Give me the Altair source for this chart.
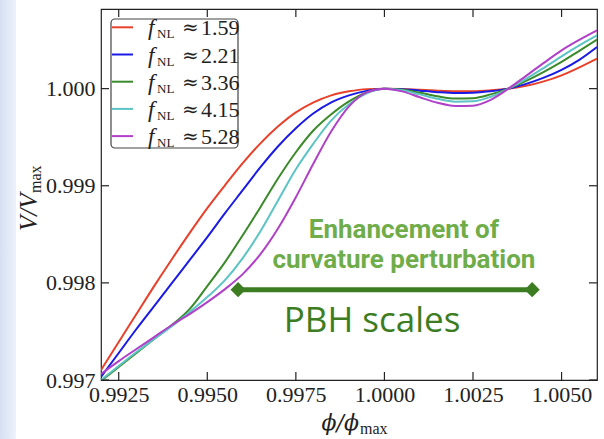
import altair as alt
import pandas as pd

# ---------------- data ----------------
phi = [0.9920, 0.9925, 0.9930, 0.9935, 0.9940, 0.9945, 0.9950, 0.9955, 0.9960,
       0.9965, 0.9970, 0.9975, 0.9980, 0.9985, 0.9990, 0.9995, 1.0000, 1.0005,
       1.0010, 1.0015, 1.0020, 1.0025, 1.0030, 1.0035, 1.0040, 1.0045, 1.0050,
       1.0055, 1.0060]

v_159 = [0.997103, 0.997391, 0.997679, 0.997967, 0.998244, 0.998512, 0.998769, 0.999005, 0.999232,
         0.999437, 0.999612, 0.999756, 0.999859, 0.999931, 0.999972, 0.999995, 1.000000, 0.999997,
         0.999988, 0.999979, 0.999974, 0.999974, 0.999983, 1.000000, 1.000029, 1.000075, 1.000137,
         1.000219, 1.000309]
v_221 = [0.997031, 0.997278, 0.997525, 0.997761, 0.997998, 0.998234, 0.998471, 0.998718, 0.998954,
         0.999191, 0.999407, 0.999592, 0.999746, 0.999859, 0.999931, 0.999977, 1.000000, 0.999995,
         0.999979, 0.999964, 0.999955, 0.999957, 0.999973, 1.000000, 1.000049, 1.000113, 1.000193,
         1.000296, 1.000428]
v_336 = [0.996990, 0.997134, 0.997278, 0.997422, 0.997566, 0.997730, 0.997967, 0.998214, 0.998491,
         0.998779, 0.999077, 0.999345, 0.999571, 0.999736, 0.999869, 0.999962, 1.000000, 0.999988,
         0.999957, 0.999921, 0.999898, 0.999902, 0.999941, 1.000000, 1.000080, 1.000173, 1.000276,
         1.000389, 1.000504]
v_415 = [0.997000, 0.997144, 0.997288, 0.997422, 0.997555, 0.997699, 0.997854, 0.998028, 0.998255,
         0.998532, 0.998851, 0.999170, 0.999437, 0.999674, 0.999839, 0.999952, 1.000000, 0.999983,
         0.999941, 0.999895, 0.999866, 0.999869, 0.999916, 1.000000, 1.000101, 1.000214, 1.000332,
         1.000445, 1.000548]
v_528 = [0.997062, 0.997195, 0.997319, 0.997442, 0.997566, 0.997679, 0.997802, 0.997936, 0.998090,
         0.998296, 0.998563, 0.998882, 0.999232, 0.999561, 0.999818, 0.999962, 1.000000, 0.999972,
         0.999911, 0.999854, 0.999822, 0.999825, 0.999885, 1.000000, 1.000132, 1.000265, 1.000394,
         1.000502, 1.000600]

fnl_labels = ["1.59", "2.21", "3.36", "4.15", "5.28"]
series = [v_159, v_221, v_336, v_415, v_528]
colors = ["#e8402a", "#1a1ae6", "#3a8a2a", "#5cc4c4", "#b040c8"]

x_ticks = [0.9925, 0.9950, 0.9975, 1.0000, 1.0025, 1.0050]
y_ticks = [0.997, 0.998, 0.999, 1.000]

pbh_range = [0.99587, 1.00417]
pbh_level = 0.99793
annot_lines = ["Enhancement of", "curvature perturbation"]
annot_x = 1.00055
annot_y = [0.998462, 0.998153]
pbh_label = "PBH scales"
pbh_label_x = 0.99965
pbh_label_y = 0.997494

# ---------------- chart ----------------
W, H = 496, 371
SERIF = "Liberation Serif"
INK = "#222222"
DG = "#3c7d22"
LG = "#6fac4a"

rows = []
for lab, ys in zip(fnl_labels, series):
    for x, y in zip(phi, ys):
        rows.append({"phi": x, "V": y, "fNL": lab})
df = pd.DataFrame(rows)

xscale = alt.Scale(domain=[0.992, 1.006], nice=False, zero=False)
yscale = alt.Scale(domain=[0.997, 1.00082], nice=False, zero=False)
xaxis = alt.Axis(values=x_ticks, format=".4f", ticks=False, domain=False, grid=False,
                 labelFont=SERIF, labelFontSize=22, labelColor=INK, labelPadding=4,
                 title=None, labelFlush=False)
yaxis = alt.Axis(values=y_ticks, format=".3f", ticks=False, domain=False, grid=False,
                 labelFont=SERIF, labelFontSize=22, labelColor=INK, labelPadding=6,
                 title=None)

one = pd.DataFrame({"a": [0]})

strip = alt.Chart(one).mark_rect(
    color=alt.LinearGradient(
        gradient="linear",
        stops=[alt.GradientStop(color="#d6e0f2", offset=0),
               alt.GradientStop(color="#eef2fa", offset=1)],
        x1=0, x2=1, y1=0, y2=0)
).encode(x=alt.value(-101), x2=alt.value(-85), y=alt.value(-9), y2=alt.value(430))

lines = alt.Chart(df).mark_line(strokeWidth=2, clip=True, interpolate="monotone").encode(
    x=alt.X("phi:Q", scale=xscale, axis=xaxis),
    y=alt.Y("V:Q", scale=yscale, axis=yaxis),
    color=alt.Color("fNL:N", scale=alt.Scale(domain=fnl_labels, range=colors), legend=None),
)

xt = pd.DataFrame({"t": x_ticks})
yt = pd.DataFrame({"t": y_ticks})
tk = dict(color=INK, thickness=1.2, size=8, opacity=1)
t_bottom = alt.Chart(xt).mark_tick(orient="vertical", **tk).encode(
    x=alt.X("t:Q", scale=xscale, axis=xaxis), y=alt.value(H - 4))
t_top = alt.Chart(xt).mark_tick(orient="vertical", **tk).encode(
    x=alt.X("t:Q", scale=xscale, axis=xaxis), y=alt.value(4))
t_left = alt.Chart(yt).mark_tick(orient="horizontal", **tk).encode(
    y=alt.Y("t:Q", scale=yscale, axis=yaxis), x=alt.value(4))
t_right = alt.Chart(yt).mark_tick(orient="horizontal", **tk).encode(
    y=alt.Y("t:Q", scale=yscale, axis=yaxis), x=alt.value(W - 4))

# axis titles
xt1 = alt.Chart(one).mark_text(text="ϕ/ϕ", font="DejaVu Serif", fontStyle="italic", fontSize=22,
                               align="right", baseline="alphabetic", color=INK).encode(
    x=alt.value(258), y=alt.value(421))
xt2 = alt.Chart(one).mark_text(text="max", font=SERIF, fontSize=16,
                               align="left", baseline="alphabetic", color=INK).encode(
    x=alt.value(259), y=alt.value(425))
yt1 = alt.Chart(one).mark_text(text="V/V", font=SERIF, fontStyle="italic", fontSize=25,
                               align="left", baseline="alphabetic", angle=270, color=INK).encode(
    x=alt.value(-64), y=alt.value(222))
yt2 = alt.Chart(one).mark_text(text="max", font=SERIF, fontSize=16,
                               align="left", baseline="alphabetic", angle=270, color=INK).encode(
    x=alt.value(-60), y=alt.value(184))

# legend
leg_layers = [alt.Chart(one).mark_rect(fill="white", stroke="#444", strokeWidth=1.2,
                                       cornerRadius=4).encode(
    x=alt.value(10), x2=alt.value(137), y=alt.value(10), y2=alt.value(139))]
for i, (lab, col) in enumerate(zip(fnl_labels, colors)):
    ry = 18.3 + i * 27.2
    leg_layers.append(alt.Chart(one).mark_rule(color=col, strokeWidth=2).encode(
        x=alt.value(11), x2=alt.value(32), y=alt.value(ry)))
    leg_layers.append(alt.Chart(one).mark_text(text="f", font=SERIF, fontStyle="italic",
                                               fontSize=23, align="left", baseline="alphabetic",
                                               color=INK).encode(x=alt.value(47), y=alt.value(ry + 8)))
    leg_layers.append(alt.Chart(one).mark_text(text="NL", font=SERIF, fontSize=13,
                                               align="left", baseline="alphabetic",
                                               color=INK).encode(x=alt.value(56), y=alt.value(ry + 11)))
    leg_layers.append(alt.Chart(one).mark_text(text="≈", font="DejaVu Serif", fontSize=20,
                                               align="left", baseline="alphabetic",
                                               color=INK).encode(x=alt.value(81), y=alt.value(ry + 7)))
    leg_layers.append(alt.Chart(one).mark_text(text=lab, font=SERIF, fontSize=22,
                                               align="left", baseline="alphabetic",
                                               color=INK).encode(x=alt.value(100), y=alt.value(ry + 8)))

# annotation
pbh_df = pd.DataFrame({"x0": [pbh_range[0]], "x1": [pbh_range[1]], "y": [pbh_level]})
pbh_rule = alt.Chart(pbh_df).mark_rule(color=DG, strokeWidth=5).encode(
    x=alt.X("x0:Q", scale=xscale, axis=xaxis), x2="x1:Q",
    y=alt.Y("y:Q", scale=yscale, axis=yaxis))
dia_df = pd.DataFrame({"x": pbh_range, "y": [pbh_level] * 2})
pbh_dia = alt.Chart(dia_df).mark_point(shape="diamond", filled=True, size=230, color=DG,
                                       opacity=1).encode(
    x=alt.X("x:Q", scale=xscale, axis=xaxis), y=alt.Y("y:Q", scale=yscale, axis=yaxis))
ann_df = pd.DataFrame({"t": annot_lines, "x": [annot_x] * 2, "y": annot_y})
ann = alt.Chart(ann_df).mark_text(font="Roboto", fontWeight="bold", fontSize=26, color=LG,
                                  align="center", baseline="alphabetic").encode(
    x=alt.X("x:Q", scale=xscale, axis=xaxis), y=alt.Y("y:Q", scale=yscale, axis=yaxis),
    text="t:N")
pbh_df2 = pd.DataFrame({"t": [pbh_label], "x": [pbh_label_x], "y": [pbh_label_y]})
pbh_txt = alt.Chart(pbh_df2).mark_text(font="Open Sans", fontSize=35, color=DG,
                                       align="center", baseline="alphabetic").encode(
    x=alt.X("x:Q", scale=xscale, axis=xaxis), y=alt.Y("y:Q", scale=yscale, axis=yaxis),
    text="t:N")

chart = alt.layer(
    strip, lines, *leg_layers, t_bottom, t_top, t_left, t_right,
    xt1, xt2, yt1, yt2, pbh_rule, pbh_dia, ann, pbh_txt
).properties(
    width=W, height=H,
    padding={"left": 101, "top": 9, "right": 7, "bottom": 59},
    autosize=alt.AutoSizeParams(type="none"),
    background="white",
).configure_view(stroke=INK, strokeWidth=1.2)

chart.save("out.html", embed_options={"renderer": "svg", "actions": False})
